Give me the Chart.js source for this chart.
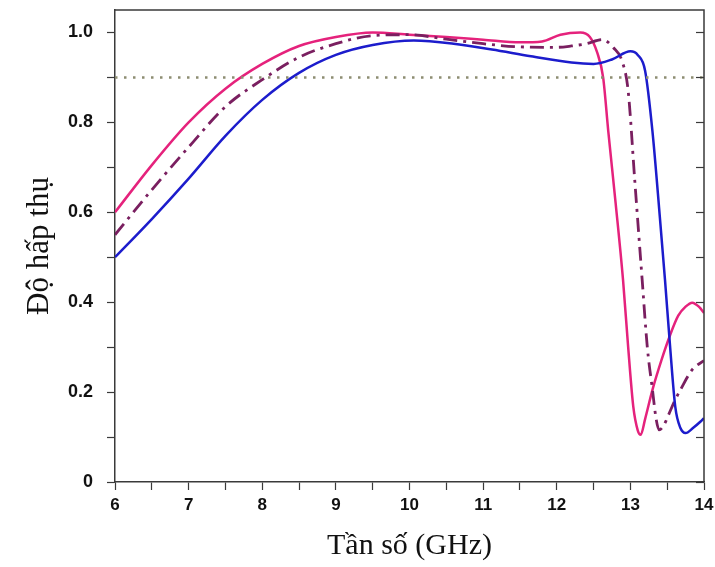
<!DOCTYPE html>
<html>
<head>
<meta charset="utf-8">
<script src="https://cdn.jsdelivr.net/npm/chart.js@4.4.1/dist/chart.umd.min.js"></script>
<style>
  html, body { margin: 0; padding: 0; background: #ffffff; }
  #wrap { width: 715px; height: 567px; }
</style>
</head>
<body>
<div id="wrap"><canvas id="c" width="715" height="567"></canvas></div>
<script>
// Frequency (GHz) and absorption values
const pinkX = [6.0, 6.5, 7.0, 7.5, 8.0, 8.5, 9.0, 9.5, 10.0, 10.5, 11.0, 11.5, 11.8, 12.05, 12.32, 12.45, 12.55, 12.63, 12.7, 12.8, 12.9, 12.97, 13.04, 13.1, 13.14, 13.2, 13.3, 13.42, 13.54, 13.65, 13.75, 13.84, 13.93, 14.0];
const pinkY = [0.60, 0.705, 0.80, 0.875, 0.93, 0.97, 0.99, 1.0, 0.995, 0.99, 0.984, 0.978, 0.98, 0.995, 1.0, 0.99, 0.955, 0.90, 0.78, 0.62, 0.45, 0.30, 0.167, 0.115, 0.105, 0.14, 0.205, 0.27, 0.327, 0.37, 0.39, 0.399, 0.39, 0.376];

const dashX = [6.0, 6.5, 7.0, 7.5, 8.0, 8.5, 9.0, 9.5, 10.0, 10.5, 11.0, 11.5, 12.0, 12.2, 12.4, 12.62, 12.77, 12.89, 12.97, 13.06, 13.16, 13.23, 13.3, 13.35, 13.39, 13.45, 13.52, 13.6, 13.68, 13.84, 14.0];
const dashY = [0.55, 0.65, 0.745, 0.835, 0.895, 0.945, 0.975, 0.993, 0.995, 0.985, 0.975, 0.968, 0.967, 0.97, 0.975, 0.984, 0.966, 0.935, 0.87, 0.67, 0.45, 0.30, 0.205, 0.14, 0.116, 0.125, 0.15, 0.18, 0.205, 0.25, 0.27];

const blueX = [6.0, 6.5, 7.0, 7.5, 8.0, 8.5, 9.0, 9.5, 10.06, 10.6, 11.12, 11.65, 12.2, 12.5, 12.75, 13.0, 13.1, 13.2, 13.3, 13.4, 13.47, 13.54, 13.61, 13.68, 13.75, 13.85, 13.95, 14.0];
const blueY = [0.50, 0.585, 0.675, 0.77, 0.85, 0.91, 0.95, 0.972, 0.982, 0.975, 0.962, 0.947, 0.933, 0.93, 0.94, 0.958, 0.95, 0.915, 0.78, 0.59, 0.45, 0.30, 0.167, 0.12, 0.109, 0.12, 0.134, 0.142];

const refX = [6, 14];
const refY = [0.9, 0.9];

const xTickLabels = ['6', '7', '8', '9', '10', '11', '12', '13', '14'];
const yTickLabels = ['0', '0.2', '0.4', '0.6', '0.8', '1.0'];

const xTitle = 'Tần số (GHz)';
const yTitle = 'Độ hấp thụ';

function pts(xs, ys) { return xs.map((x, i) => ({ x: x, y: ys[i] })); }

const AXIS = '#3a3a3a';

// draws top border and inward ticks on the right edge (mirror axis)
const framePlugin = {
  id: 'frame',
  afterDraw(chart) {
    const ctx = chart.ctx;
    const a = chart.chartArea;
    const ys = chart.scales.y;
    ctx.save();
    ctx.strokeStyle = AXIS;
    ctx.lineWidth = 1.5;
    ctx.beginPath();
    ctx.moveTo(a.left, a.top);
    ctx.lineTo(a.right, a.top);
    ctx.lineTo(a.right, a.bottom);
    ctx.stroke();
    ctx.lineWidth = 1.2;
    ys.ticks.forEach(t => {
      const p = Math.round(ys.getPixelForValue(t.value)) + 0.5;
      ctx.beginPath();
      ctx.moveTo(a.right, p);
      ctx.lineTo(a.right - 8, p);
      ctx.stroke();
    });
    ctx.restore();
  }
};

new Chart(document.getElementById('c'), {
  type: 'line',
  data: {
    datasets: [
      { label: 'ref', data: pts(refX, refY), borderColor: '#8d8d72', borderWidth: 2.5, borderDash: [2.5, 6.5], pointRadius: 0, tension: 0 },
      { label: 'blue', data: pts(blueX, blueY), borderColor: '#1c1ccc', borderWidth: 2.5, pointRadius: 0, cubicInterpolationMode: 'monotone' },
      { label: 'dashdot', data: pts(dashX, dashY), borderColor: '#7a1f60', borderWidth: 2.8, borderDash: [14, 6, 3, 6], pointRadius: 0, cubicInterpolationMode: 'monotone' },
      { label: 'pink', data: pts(pinkX, pinkY), borderColor: '#e5227c', borderWidth: 2.5, pointRadius: 0, cubicInterpolationMode: 'monotone' }
    ]
  },
  options: {
    responsive: false,
    devicePixelRatio: 1,
    animation: false,
    layout: { padding: { left: 0, right: 11, top: 10, bottom: 0 } },
    plugins: { legend: { display: false }, tooltip: { enabled: false } },
    scales: {
      x: {
        type: 'linear',
        min: 6, max: 14,
        afterFit(s) { s.height = 85; s.paddingLeft = 0; s.paddingRight = 0; },
        afterBuildTicks(s) {
          const t = [];
          for (let v = 6; v <= 14.0001; v += 0.5) t.push({ value: Math.round(v * 10) / 10 });
          s.ticks = t;
        },
        ticks: {
          autoSkip: false,
          maxRotation: 0,
          padding: 5,
          color: '#111',
          font: { family: 'Liberation Sans, Arial, sans-serif', weight: 'bold', size: 17 },
          callback(v) {
            const i = xTickLabels.indexOf(String(v));
            return i >= 0 ? xTickLabels[i] : '';
          }
        },
        grid: { drawOnChartArea: false, tickLength: 8, color: AXIS, tickWidth: 1.2 },
        border: { display: true, color: AXIS, width: 1.5 },
        title: {
          display: true, text: xTitle, color: '#111',
          font: { family: 'Liberation Serif, Times New Roman, serif', size: 30 },
          padding: { top: 0, bottom: 3 }
        }
      },
      y: {
        type: 'linear',
        min: 0, max: 1.05,
        afterFit(s) { s.width = 115; s.paddingTop = 0; s.paddingBottom = 0; },
        afterBuildTicks(s) {
          const t = [];
          for (let i = 0; i <= 10; i++) t.push({ value: i / 10 });
          s.ticks = t;
        },
        ticks: {
          autoSkip: false,
          padding: 14,
          color: '#111',
          font: { family: 'Liberation Sans, Arial, sans-serif', weight: 'bold', size: 18 },
          callback(v) {
            const k = Math.round(v * 10);
            if (k % 2 !== 0) return '';
            return yTickLabels[k / 2];
          }
        },
        grid: { drawOnChartArea: false, tickLength: 8, color: AXIS, tickWidth: 1.2 },
        border: { display: true, color: AXIS, width: 1.5 },
        title: {
          display: true, text: yTitle, color: '#111',
          font: { family: 'Liberation Serif, Times New Roman, serif', size: 31 },
          padding: { top: 21, bottom: 0 }
        }
      }
    }
  },
  plugins: [framePlugin]
});
</script>
</body>
</html>
